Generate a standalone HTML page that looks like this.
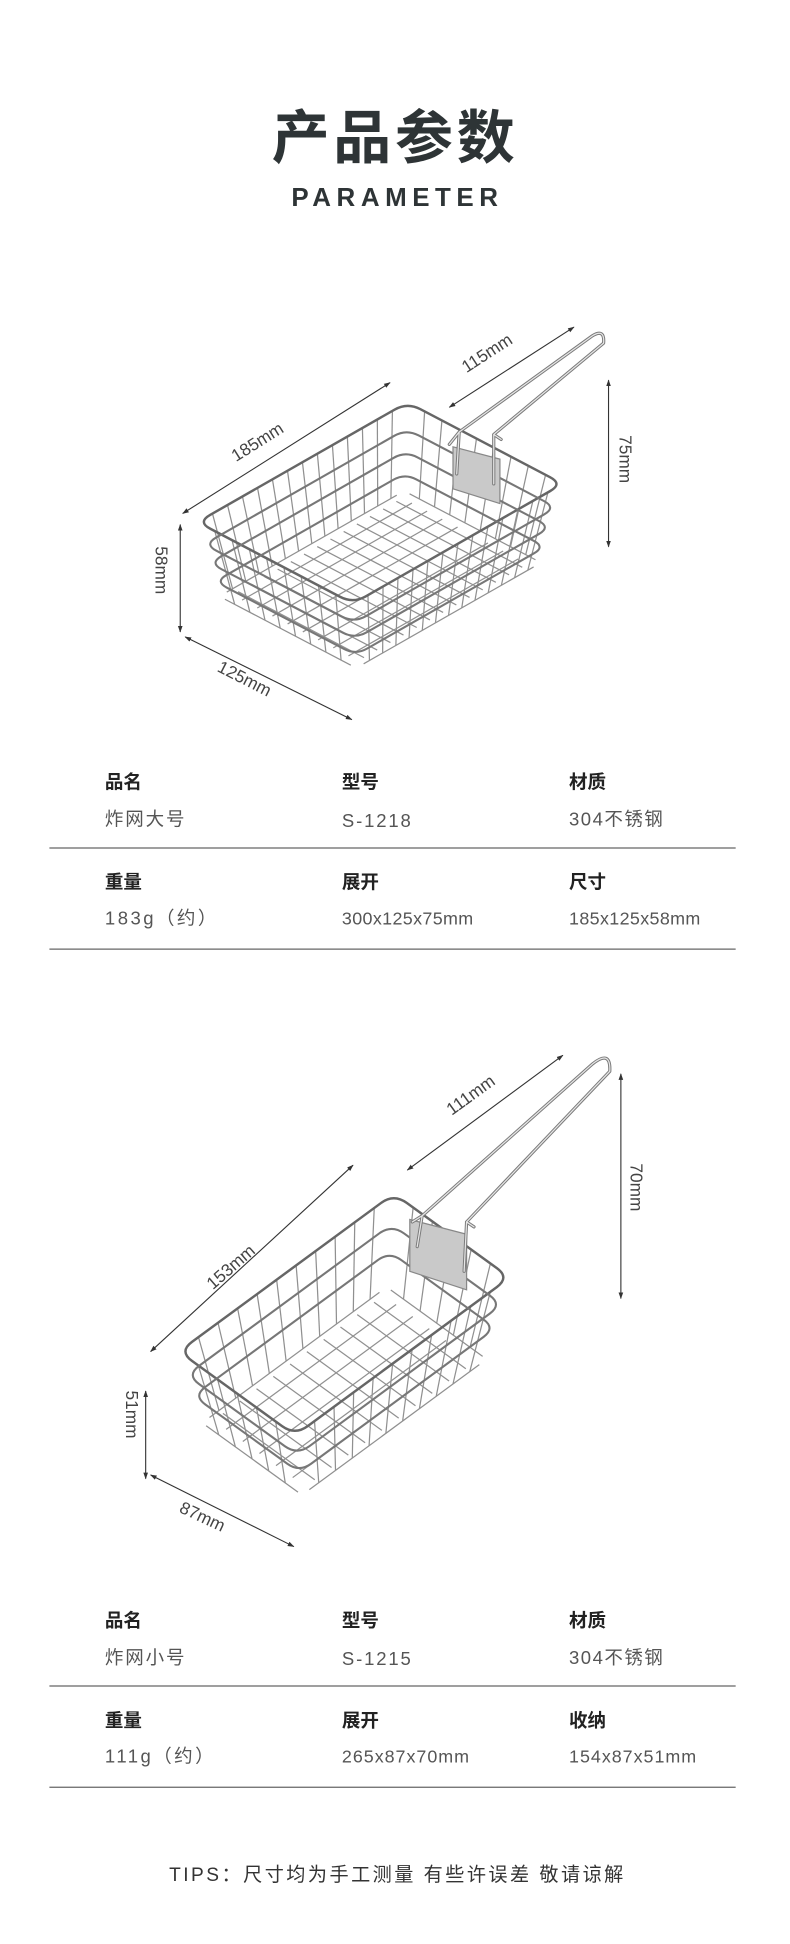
<!DOCTYPE html>
<html><head><meta charset="utf-8">
<style>
html,body{margin:0;padding:0;background:#fff;}
body{width:790px;height:1944px;overflow:hidden;}
svg{display:block;}
.t{font-family:"Liberation Sans","Noto Sans CJK SC",sans-serif;}
</style></head>
<body>
<svg id="s" width="790" height="1944" viewBox="0 0 640 1575" xmlns="http://www.w3.org/2000/svg">
<defs>
<marker id="ah" viewBox="0 0 10 10" refX="9" refY="5" markerWidth="6" markerHeight="6" orient="auto-start-reverse">
<path d="M0,1.5 L10,5 L0,8.5 z" fill="#333"/></marker>
</defs>
<rect width="640" height="1575" fill="#fff"/>
<text class="t" x="320" y="128" text-anchor="middle" font-size="47" font-weight="bold" fill="#2e3436" letter-spacing="3">产品参数</text>
<text class="t" x="322" y="167" text-anchor="middle" font-size="21" font-weight="bold" fill="#2e3436" letter-spacing="4.5">PARAMETER</text>

<g id="b1"></g>
<g id="b2"></g>

<g stroke="#333" stroke-width="0.9" fill="none">
<line x1="148" y1="416" x2="316" y2="310" marker-start="url(#ah)" marker-end="url(#ah)"/>
<line x1="364" y1="330" x2="465" y2="265" marker-start="url(#ah)" marker-end="url(#ah)"/>
<line x1="493" y1="308" x2="493" y2="443" marker-start="url(#ah)" marker-end="url(#ah)"/>
<line x1="146" y1="425" x2="146" y2="512" marker-start="url(#ah)" marker-end="url(#ah)"/>
<line x1="150" y1="516" x2="285" y2="583" marker-start="url(#ah)" marker-end="url(#ah)"/>
</g>
<g class="t" font-size="14" fill="#444">
<text transform="translate(211,362) rotate(-32)" text-anchor="middle">185mm</text>
<text transform="translate(397,290) rotate(-33)" text-anchor="middle">115mm</text>
<text transform="translate(502,372) rotate(90)" text-anchor="middle">75mm</text>
<text transform="translate(126,462) rotate(90)" text-anchor="middle">58mm</text>
<text transform="translate(196,554) rotate(27)" text-anchor="middle">125mm</text>
</g>

<g class="t" font-size="15">
<text x="85" y="639" font-weight="bold" fill="#222">品名</text>
<text x="277" y="639" font-weight="bold" fill="#222">型号</text>
<text x="461" y="639" font-weight="bold" fill="#222">材质</text>
<text x="85" y="669" fill="#555" letter-spacing="1.5">炸网大号</text>
<text x="277" y="670" fill="#555" letter-spacing="1.5">S-1218</text>
<text x="461" y="669" fill="#555" letter-spacing="1.2">304不锈钢</text>
<text x="85" y="720" font-weight="bold" fill="#222">重量</text>
<text x="277" y="720" font-weight="bold" fill="#222">展开</text>
<text x="461" y="720" font-weight="bold" fill="#222">尺寸</text>
<text x="85" y="749" fill="#555" letter-spacing="2">183g（约）</text>
<text x="277" y="749" fill="#555" font-size="14.5" letter-spacing="0.3">300x125x75mm</text>
<text x="461" y="749" fill="#555" font-size="14.5" letter-spacing="0.3">185x125x58mm</text>
</g>
<line x1="40" y1="687" x2="596" y2="687" stroke="#666" stroke-width="1"/>
<line x1="40" y1="769" x2="596" y2="769" stroke="#666" stroke-width="1"/>

<g stroke="#333" stroke-width="0.9" fill="none">
<line x1="122" y1="1095" x2="286" y2="944" marker-start="url(#ah)" marker-end="url(#ah)"/>
<line x1="330" y1="948" x2="456" y2="855" marker-start="url(#ah)" marker-end="url(#ah)"/>
<line x1="503" y1="870" x2="503" y2="1052" marker-start="url(#ah)" marker-end="url(#ah)"/>
<line x1="118" y1="1127" x2="118" y2="1198" marker-start="url(#ah)" marker-end="url(#ah)"/>
<line x1="122" y1="1195" x2="238" y2="1253" marker-start="url(#ah)" marker-end="url(#ah)"/>
</g>
<g class="t" font-size="14" fill="#444">
<text transform="translate(190,1030) rotate(-41)" text-anchor="middle">153mm</text>
<text transform="translate(384,891) rotate(-36)" text-anchor="middle">111mm</text>
<text transform="translate(511,962) rotate(90)" text-anchor="middle">70mm</text>
<text transform="translate(102,1146) rotate(90)" text-anchor="middle">51mm</text>
<text transform="translate(162,1233) rotate(25)" text-anchor="middle">87mm</text>
</g>

<g class="t" font-size="15">
<text x="85" y="1318" font-weight="bold" fill="#222">品名</text>
<text x="277" y="1318" font-weight="bold" fill="#222">型号</text>
<text x="461" y="1318" font-weight="bold" fill="#222">材质</text>
<text x="85" y="1348" fill="#555" letter-spacing="1.5">炸网小号</text>
<text x="277" y="1349" fill="#555" letter-spacing="1.5">S-1215</text>
<text x="461" y="1348" fill="#555" letter-spacing="1.2">304不锈钢</text>
<text x="85" y="1399" font-weight="bold" fill="#222">重量</text>
<text x="277" y="1399" font-weight="bold" fill="#222">展开</text>
<text x="461" y="1399" font-weight="bold" fill="#222">收纳</text>
<text x="85" y="1428" fill="#555" letter-spacing="2">111g（约）</text>
<text x="277" y="1428" fill="#555" font-size="14.5" letter-spacing="0.8">265x87x70mm</text>
<text x="461" y="1428" fill="#555" font-size="14.5" letter-spacing="0.8">154x87x51mm</text>
</g>
<line x1="40" y1="1366" x2="596" y2="1366" stroke="#666" stroke-width="1"/>
<line x1="40" y1="1448" x2="596" y2="1448" stroke="#666" stroke-width="1"/>

<text class="t" x="137" y="1524" font-size="15.5" fill="#333" letter-spacing="2">TIPS：尺寸均为手工测量 有些许误差 敬请谅解</text>
</svg>
<script>
(function(){
var NS="http://www.w3.org/2000/svg";
function el(g,tag,a){var e=document.createElementNS(NS,tag);for(var k in a)e.setAttribute(k,a[k]);g.appendChild(e);return e;}
function basket(id,A,u,v,h,inset,N,M,rims,hinge,handle){
 var g=document.getElementById(id);
 function P(s,t,z){
   var k=inset*z;
   var ss=k+(1-2*k)*s, tt=k+(1-2*k)*t;
   return [A[0]+u[0]*ss+v[0]*tt+h[0]*z, A[1]+u[1]*ss+v[1]*tt+h[1]*z];
 }
 var st={stroke:"#909090","stroke-width":"1",fill:"none","stroke-linejoin":"round"};
 function line(p,q){var a={x1:p[0].toFixed(1),y1:p[1].toFixed(1),x2:q[0].toFixed(1),y2:q[1].toFixed(1)};for(var k in st)a[k]=st[k];el(g,"line",a);}
 for(var i=0;i<=N;i++){line(P(i/N,0.04,1),P(i/N,0.96,1));}
 for(var j=0;j<=M;j++){line(P(0.04,j/M,1),P(0.96,j/M,1));}
 for(var i=1;i<N;i++){line(P(i/N,0,0),P(i/N,0,1));line(P(i/N,1,0),P(i/N,1,1));}
 for(var j=1;j<M;j++){line(P(0,j/M,0),P(0,j/M,1));line(P(1,j/M,0),P(1,j/M,1));}
 var r=0.06;
 rims.forEach(function(z,idx){
   var rs=r, rt=r*(Math.hypot(u[0],u[1])/Math.hypot(v[0],v[1]));
   function f(p){return p[0].toFixed(1)+","+p[1].toFixed(1);}
   var d="M"+f(P(rs,0,z))+" L"+f(P(1-rs,0,z))+" Q"+f(P(1,0,z))+" "+f(P(1,rt,z))
     +" L"+f(P(1,1-rt,z))+" Q"+f(P(1,1,z))+" "+f(P(1-rs,1,z))
     +" L"+f(P(rs,1,z))+" Q"+f(P(0,1,z))+" "+f(P(0,1-rt,z))
     +" L"+f(P(0,rt,z))+" Q"+f(P(0,0,z))+" "+f(P(rs,0,z))+" Z";
   el(g,"path",{d:d,stroke:idx==0?"#666":"#777","stroke-width":idx==0?"2":"1.7",fill:"none"});
 });
 el(g,"polygon",{points:hinge,fill:"#c9c9c9",stroke:"#888","stroke-width":"1"});
 el(g,"path",{d:handle,fill:"none",stroke:"#7a7a7a","stroke-width":"2.6","stroke-linejoin":"round","stroke-linecap":"round"});
 el(g,"path",{d:handle,fill:"none",stroke:"#e6e6e6","stroke-width":"1","stroke-linejoin":"round","stroke-linecap":"round"});
}
basket("b1",[160,423],[170,-97],[126,66],[0,62],0.06,14,9,[0,0.3,0.55,0.8],
 "367,362 405,372 405,408 367,396",
 "M370,384 L372,350 L480,272 Q490,266 489,278 L400,352 L400,392 M372,350 L364,360 M400,352 L406,356");
basket("b2",[145,1095],[174,-128],[94,68],[0,62],0.07,11,6,[0,0.33,0.62],
 "332,988 378,1000 378,1045 332,1030",
 "M338,1010 L342,985 L480,862 Q495,850 494,868 L378,990 L376,1030 M342,985 L334,990 M378,990 L384,994");
})();
</script>
</body></html>
